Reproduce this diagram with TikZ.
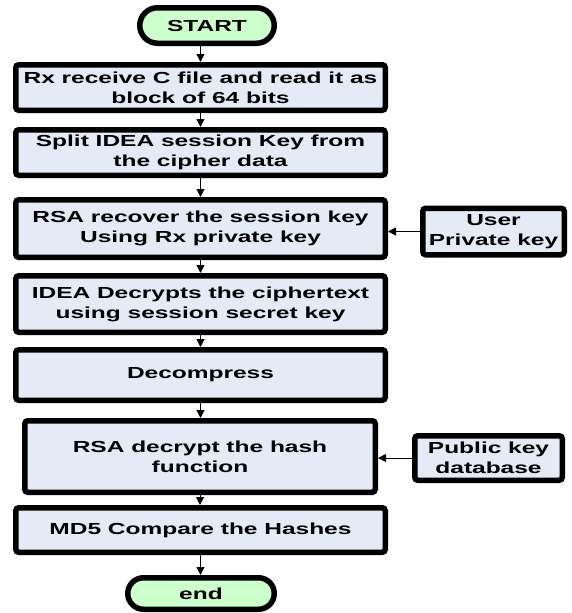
\documentclass[tikz,border=0pt]{standalone}
\usepackage{fontspec}
\setmainfont{Liberation Sans}[FakeStretch=1.53]
\usetikzlibrary{shapes.misc,arrows.meta}

\definecolor{boxfill}{RGB}{228,235,247}
\definecolor{termfill}{RGB}{204,255,204}

\tikzset{
  label font/.style={font=\fontsize{16}{20}\selectfont\bfseries, text=black, align=center},
  stepbox/.style={label font, draw=black, line width=5.5pt, fill=boxfill,
    rounded corners=3pt, rectangle, inner sep=0pt},
  terminal/.style={label font, draw=black, line width=5.5pt, fill=termfill,
    rounded rectangle, inner sep=0pt},
  flow/.style={draw=black, line width=1pt, -{Triangle[width=8pt,length=8pt]}}
}

\begin{document}
\begin{tikzpicture}[x=1pt,y=1pt]
  \useasboundingbox (0,0) rectangle (571,-613);

  % terminals
  \node[terminal, minimum width=134.5pt, minimum height=35.5pt] (start) at (207,-25.5) {START};
  \node[terminal, minimum width=146.5pt, minimum height=31.5pt] (finish) at (201,-593.5) {end};

  % main processing steps
  \node[stepbox, minimum width=369.5pt, minimum height=45.5pt] (b1) at (200.5,-87.5)
    {Rx receive C file and read it as\\block of 64 bits};
  \node[stepbox, minimum width=369.5pt, minimum height=45.5pt] (b2) at (200.5,-152.5)
    {Split IDEA session Key from\\the cipher data};
  \node[stepbox, minimum width=369.5pt, minimum height=57.5pt] (b3) at (200.5,-228.5)
    {RSA recover the session key\\Using Rx private key};
  \node[stepbox, minimum width=369.5pt, minimum height=56.5pt] (b4) at (200.5,-304)
    {IDEA Decrypts the ciphertext\\using session secret key};
  \node[stepbox, minimum width=369.5pt, minimum height=50.5pt] (b5) at (200.5,-375)
    {Decompress};
  \node[stepbox, minimum width=350.5pt, minimum height=71.5pt] (b6) at (200,-456.5)
    {RSA decrypt the hash\\function};
  \node[stepbox, minimum width=369.5pt, minimum height=44.5pt] (b7) at (200.5,-530)
    {MD5 Compare the Hashes};

  % key sources
  \node[stepbox, minimum width=141.5pt, minimum height=46.5pt] (user) at (493.5,-231.5)
    {User\\Private key};
  \node[stepbox, minimum width=147.5pt, minimum height=44.5pt] (pub) at (488.5,-458)
    {Public key\\database};

  % connectors
  \draw[flow] (start.south -| b1.north) -- (b1.north);
  \draw[flow] (b1) -- (b2);
  \draw[flow] (b2) -- (b3);
  \draw[flow] (b3) -- (b4);
  \draw[flow] (b4) -- (b5);
  \draw[flow] (b5.south) -- (b5.south |- b6.north);
  \draw[flow] (b6.south) -- (b6.south |- b7.north);
  \draw[flow] (b7.south) -- (b7.south |- finish.north);
  \draw[flow] (user.west) -- (user.west -| b3.east);
  \draw[flow] (pub.west) -- (pub.west -| b6.east);
\end{tikzpicture}
\end{document}
